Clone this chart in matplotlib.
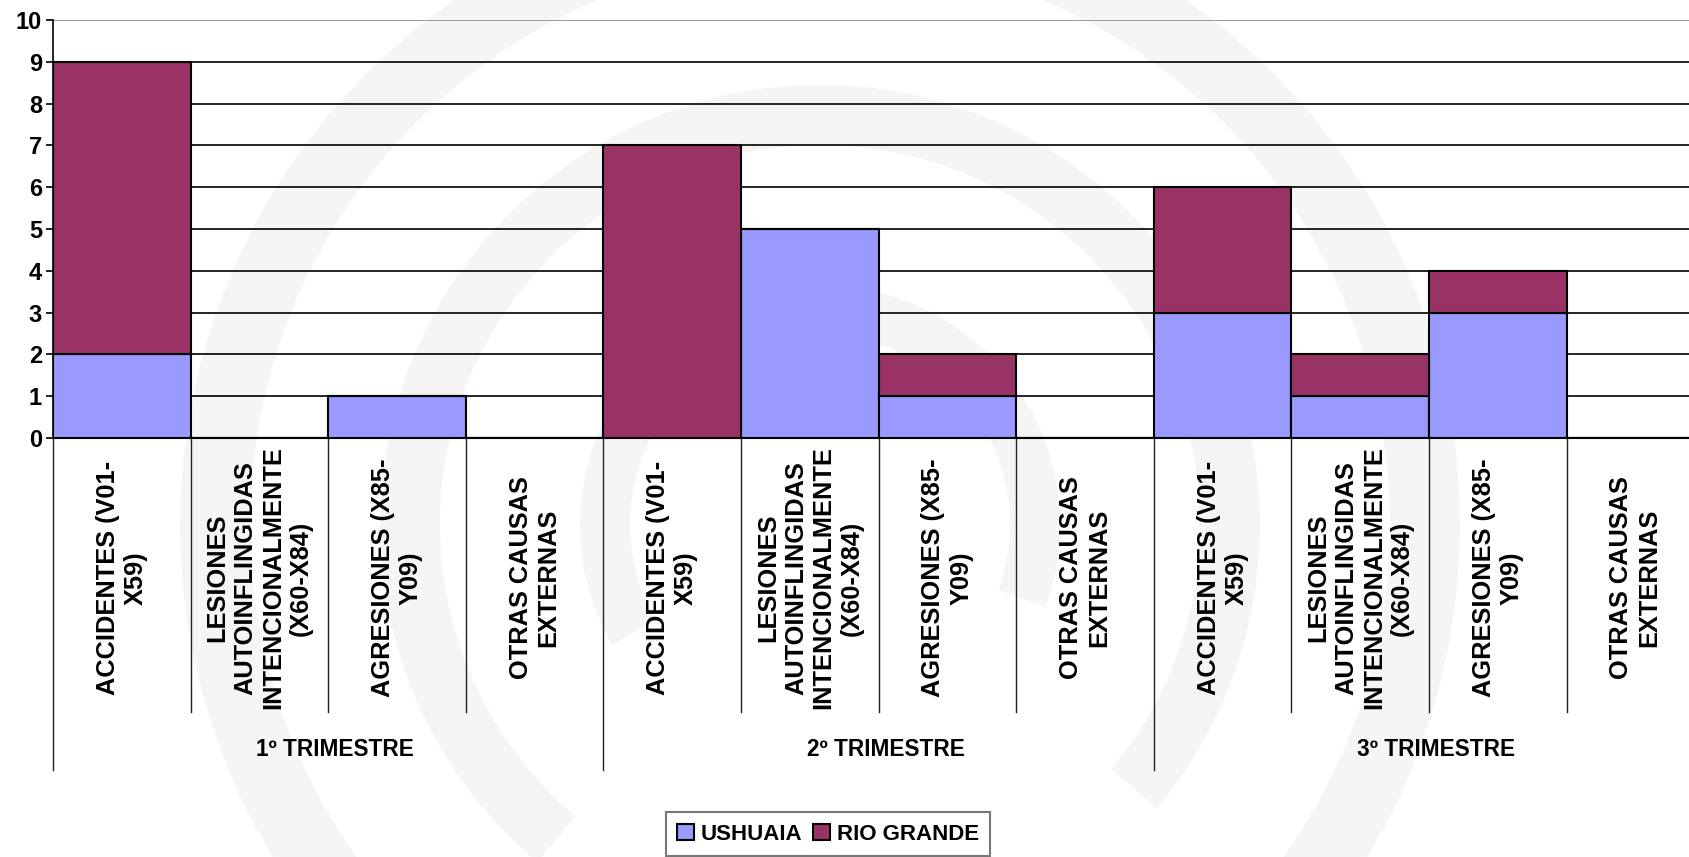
import matplotlib
matplotlib.use("Agg")
import matplotlib.pyplot as plt
import numpy as np
from matplotlib import font_manager
from matplotlib.transforms import blended_transform_factory, IdentityTransform
from matplotlib.patches import Wedge, Patch

# ---------------- data ----------------
groups = ["1º TRIMESTRE", "2º TRIMESTRE", "3º TRIMESTRE"]
causes = ["ACCIDENTES (V01-\nX59)",
          "LESIONES\nAUTOINFLINGIDAS\nINTENCIONALMENTE\n(X60-X84)",
          "AGRESIONES (X85-\nY09)",
          "OTRAS CAUSAS\nEXTERNAS"]
ushuaia = [2, 0, 1, 0,   0, 5, 1, 0,   3, 1, 3, 0]
rio_grande = [7, 0, 0, 0,   7, 0, 1, 0,   3, 1, 1, 0]
series_names = ["USHUAIA", "RIO GRANDE"]
yticks = list(range(0, 11))

# ---------------- fonts ----------------
def has_font(name):
    try:
        font_manager.findfont(font_manager.FontProperties(family=name),
                              fallback_to_default=False)
        return True
    except Exception:
        return False

base_font = "Liberation Sans" if has_font("Liberation Sans") else "DejaVu Sans"
plt.rcParams['font.family'] = [base_font, 'DejaVu Sans']

W, H = 1689, 857
fig = plt.figure(figsize=(W / 100, H / 100), dpi=100)
fig.patch.set_facecolor("white")

# faint watermark rings (background)
cx, cy = 820, H - 525
for r, w, t1, t2 in [(640, 70, -60, 240), (440, 60, -40, 230), (240, 50, -20, 210)]:
    fig.patches.append(Wedge((cx, cy), r, t1, t2, width=w, transform=IdentityTransform(),
                             facecolor="#f5f5f5", edgecolor="none", zorder=-10))

left_px, zero_px, top_px = 53, 438, 20
ax = fig.add_axes([left_px / W, 1 - zero_px / H, 1 - left_px / W, (zero_px - top_px) / H])
ax.patch.set_alpha(0)

x = np.arange(len(ushuaia))
c1, c2 = "#9999FF", "#993366"
ax.bar(x, ushuaia, width=1.0, color=c1, edgecolor="black", linewidth=1.5, zorder=3)
ax.bar(x, rio_grande, width=1.0, bottom=ushuaia, color=c2, edgecolor="black",
       linewidth=1.5, zorder=3)

ax.set_ylim(0, 10)
ax.set_xlim(-0.5, 11.39)
ax.set_yticks(yticks)
ax.set_yticklabels([str(t) for t in yticks], fontsize=17, fontweight="bold")
ax.tick_params(axis="y", length=5, width=1.2, pad=3)
ax.set_xticks([])
ax.yaxis.grid(True, color="black", linewidth=1.2, zorder=0)
ax.set_axisbelow(True)
gl = ax.yaxis.get_gridlines()
gl[-1].set_color("#888888")
for s in ["top", "right"]:
    ax.spines[s].set_visible(False)
ax.spines["left"].set_linewidth(1.2)
ax.spines["bottom"].set_linewidth(1.5)

# category / group separators below axis
tr = blended_transform_factory(ax.transData, fig.transFigure)
y0 = 1 - zero_px / H
for i in range(len(x) + 1):
    xb = i - 0.5
    yb = 1 - (770 if i % 4 == 0 else 712) / H
    ax.plot([xb, xb], [y0, yb], color="#222222", linewidth=1.0, transform=tr,
            clip_on=False)

# category labels
for i in range(len(x)):
    ax.text(i, 1 - 578 / H, causes[i % 4], transform=tr, rotation=90,
            ha="center", va="center", multialignment="center",
            fontsize=18.3, fontweight="bold", linespacing=1.2)

# group labels
for g, name in enumerate(groups):
    ax.text(4 * g + 1.55, 1 - 750 / H, name, transform=tr, ha="center", va="center",
            fontsize=16.3, fontweight="bold")

# legend
handles = [Patch(facecolor=c1, edgecolor="black", linewidth=1.5),
           Patch(facecolor=c2, edgecolor="black", linewidth=1.5)]
leg = fig.legend(handles, series_names, loc="center",
                 bbox_to_anchor=(828 / W, 1 - 834 / H), ncol=2, frameon=True,
                 fancybox=False, handlelength=0.75, handleheight=0.75,
                 handletextpad=0.3, columnspacing=0.5, borderpad=0.5,
                 borderaxespad=0, prop={"weight": "bold", "size": 16})
leg.get_frame().set_edgecolor("#555555")
leg.get_frame().set_linewidth(1.5)

fig.savefig("out.png", dpi=100, facecolor="white")
